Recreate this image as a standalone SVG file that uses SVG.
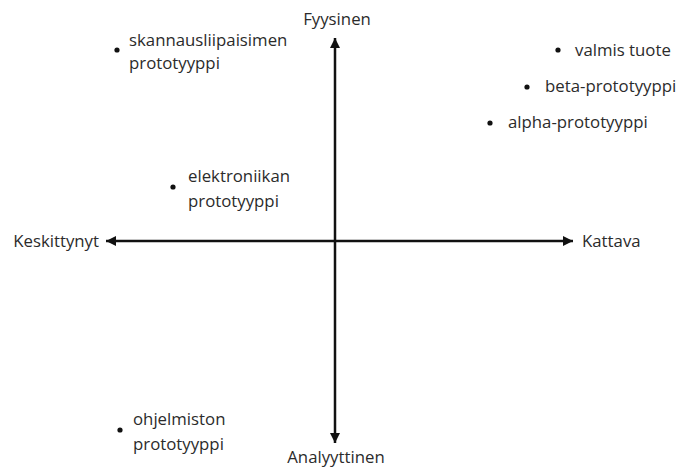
<svg xmlns="http://www.w3.org/2000/svg" width="686" height="468" viewBox="0 0 686 468">
<style>
text{font-family:"Open Sans","Noto Sans","Liberation Sans",sans-serif;font-size:16.8px;fill:#2b2b2b}
.ax{stroke:#111;stroke-width:2.5;fill:none}
.dot{fill:#111}
</style>
<defs>
<marker id="ah" viewBox="0 0 10 10" refX="10" refY="5" markerWidth="4" markerHeight="4.4" orient="auto-start-reverse" markerUnits="strokeWidth">
<path d="M0,0 L10,5 L0,10 z" fill="#111"/>
</marker>
</defs>
<rect width="686" height="468" fill="#fff"/>
<g id="connectors">
<line class="ax" x1="335" y1="443" x2="335" y2="38" marker-start="url(#ah)" marker-end="url(#ah)"/>
<line class="ax" x1="106" y1="241" x2="573" y2="241" marker-start="url(#ah)" marker-end="url(#ah)"/>
</g>
<g id="axis-top"><text x="337" y="25" text-anchor="middle">Fyysinen</text></g>
<g id="axis-bottom"><text x="336" y="463" text-anchor="middle">Analyyttinen</text></g>
<g id="axis-left"><text x="99" y="247" text-anchor="end">Keskittynyt</text></g>
<g id="axis-right"><text x="582" y="247">Kattava</text></g>
<g id="skannaus"><circle class="dot" cx="117" cy="50" r="2.6"/><text x="129" y="46">skannausliipaisimen</text><text x="129" y="69">prototyyppi</text></g>
<g id="valmis"><circle class="dot" cx="558" cy="50" r="2.6"/><text x="575" y="56">valmis tuote</text></g>
<g id="beta"><circle class="dot" cx="527" cy="87" r="2.6"/><text x="545" y="92">beta-prototyyppi</text></g>
<g id="alpha"><circle class="dot" cx="490" cy="123" r="2.6"/><text x="508" y="128">alpha-prototyyppi</text></g>
<g id="elektroniikka"><circle class="dot" cx="173" cy="187" r="2.6"/><text x="188" y="182">elektroniikan</text><text x="188" y="207">prototyyppi</text></g>
<g id="ohjelmisto"><circle class="dot" cx="120" cy="430" r="2.6"/><text x="133" y="425">ohjelmiston</text><text x="133" y="450">prototyyppi</text></g>
</svg>
